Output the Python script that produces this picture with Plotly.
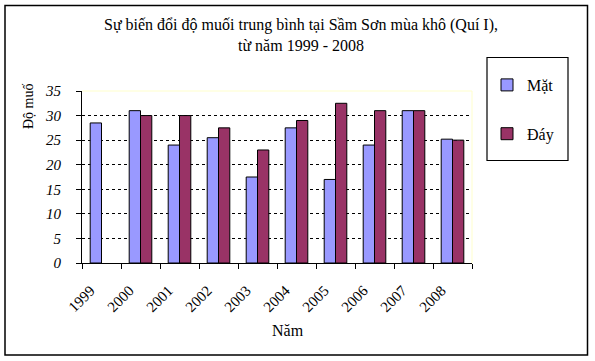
import plotly.graph_objects as go

years = ["1999", "2000", "2001", "2002", "2003", "2004", "2005", "2006", "2007", "2008"]
mat = [28.5, 31, 24, 25.5, 17.5, 27.5, 17, 24, 31, 25.2]
day = [None, 30, 30, 27.5, 23, 29, 32.5, 31, 31, 25]
y_ticks = [0, 5, 10, 15, 20, 25, 30, 35]

FONT = "Liberation Serif, Times New Roman, Times, serif"

fig = go.Figure()
fig.add_trace(go.Bar(x=years, y=mat, name="Mặt", legendgroup="a",
                     marker=dict(color="#9999FF", line=dict(color="black", width=1))))
fig.add_trace(go.Bar(x=years, y=day, name="Đáy", legendgroup="b",
                     marker=dict(color="#993366", line=dict(color="black", width=1))))

L, R, T, B = 82, 123, 91, 98
W, H = 595, 361
pw, ph = W - L - R, H - T - B

def px(x):
    return (x - L) / pw

def py(y):
    return (H - B - y) / ph

fig.update_layout(
    width=W, height=H,
    margin=dict(l=L, r=R, t=T, b=B, autoexpand=False),
    paper_bgcolor="white", plot_bgcolor="white",
    barmode="group", bargap=0.42, bargroupgap=0,
    font=dict(family=FONT, color="black", size=13),
    showlegend=True,
    legend=dict(x=px(487), y=py(68), xanchor="left", yanchor="top",
                bgcolor="rgba(0,0,0,0)", borderwidth=0,
                font=dict(family=FONT, size=16), tracegroupgap=25,
                traceorder="grouped", itemwidth=30),
    xaxis=dict(type="category", showline=True, linecolor="black", linewidth=1,
               ticks="outside", ticklen=5, tickcolor="black", tickson="boundaries",
               tickangle=-45, showgrid=False, automargin=False,
               ticklabelstandoff=12, ticklabelshift=-11,
               tickfont=dict(family=FONT, size=15)),
    yaxis=dict(range=[0, 35], tickvals=y_ticks, showline=True, linecolor="black",
               linewidth=1, ticks="outside", ticklen=5, tickcolor="black",
               showgrid=True, gridcolor="black", gridwidth=1, griddash="3px,3px",
               zeroline=False, ticklabelstandoff=12, automargin=False,
               tickfont=dict(family="Liberation Serif", size=15, style="italic")),
    shapes=[
        dict(type="line", xref="paper", yref="paper", x0=0, x1=1, y0=1, y1=1,
             line=dict(color="#FFFFCC", width=1), layer="above"),
        dict(type="line", xref="paper", yref="paper", x0=1, x1=1, y0=0, y1=1,
             line=dict(color="#FFFFCC", width=1), layer="above"),
        dict(type="rect", xref="paper", yref="paper", x0=px(487), x1=px(568),
             y0=py(160.5), y1=py(57.5), line=dict(color="black", width=1.2)),
        dict(type="rect", xref="paper", yref="paper", x0=px(5), x1=px(587.5),
             y0=py(355), y1=py(5.5), line=dict(color="black", width=1.5)),
    ],
    annotations=[
        dict(text="Sự biến đổi độ muối trung bình tại Sầm Sơn mùa khô (Quí I),<br>từ năm 1999 - 2008",
             xref="paper", yref="paper", x=px(301), y=py(35), xanchor="center", yanchor="middle",
             showarrow=False, font=dict(family=FONT, size=16)),
        dict(text="Năm", xref="paper", yref="paper", x=px(288), y=py(330.5),
             xanchor="center", yanchor="middle", showarrow=False,
             font=dict(family=FONT, size=16)),
        dict(text="Độ muố", xref="paper", yref="paper", x=px(28), y=py(106),
             xanchor="center", yanchor="middle", textangle=-90, showarrow=False,
             font=dict(family=FONT, size=14)),
    ],
)

fig.write_html("out.html", config={"displayModeBar": False},
               post_script="document.body.style.margin='0px';")
